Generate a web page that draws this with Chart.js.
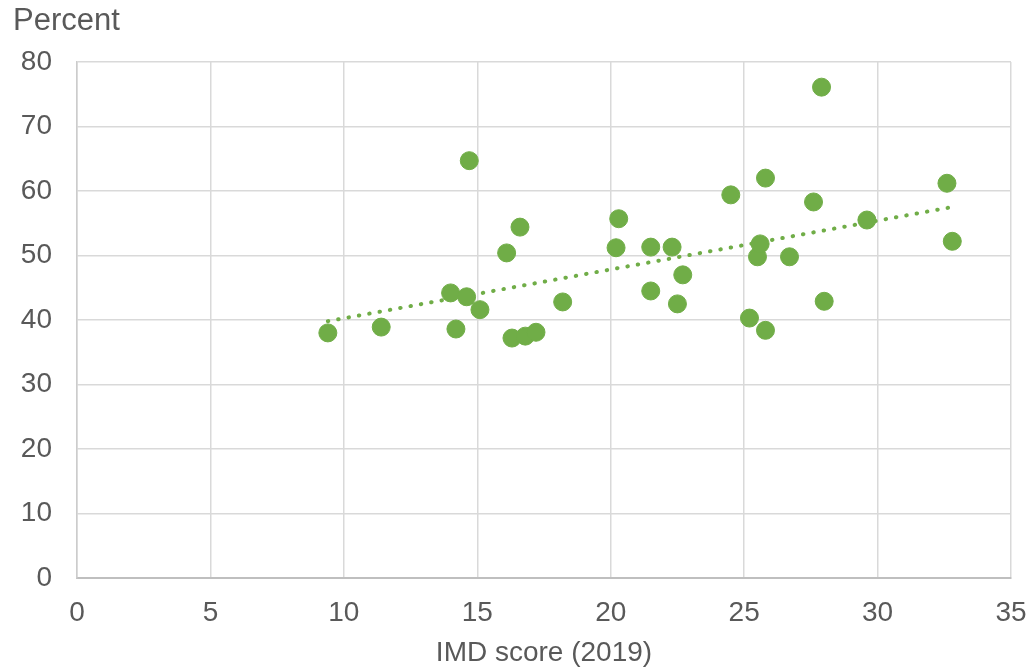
<!DOCTYPE html>
<html>
<head>
<meta charset="utf-8">
<script src="https://cdn.jsdelivr.net/npm/chart.js@4/dist/chart.umd.min.js"></script>
<style>
  html, body { margin: 0; padding: 0; background: #fff; }
  #wrap { width: 1033px; height: 667px; }
</style>
</head>
<body>
<div id="wrap"><canvas id="chart" width="1033" height="667"></canvas></div>
<script>
// IMD score (2019) per area
const imdScores = [9.4, 11.4, 14.0, 14.2, 14.6, 14.7, 15.1, 16.1, 16.3, 16.6, 16.8, 17.2, 18.2,
  20.2, 20.3, 21.5, 21.5, 22.3, 22.5, 22.7, 24.5, 25.2, 25.5, 25.6, 25.8, 25.8, 26.7,
  27.6, 27.9, 28.0, 29.6, 32.6, 32.8];
// Percent per area
const percentValues = [38.0, 38.9, 44.2, 38.6, 43.6, 64.7, 41.6, 50.4, 37.2, 54.4, 37.5, 38.1, 42.8,
  51.2, 55.7, 51.3, 44.5, 51.3, 42.5, 47.0, 59.4, 40.3, 49.8, 51.8, 38.4, 62.0, 49.8,
  58.3, 76.1, 42.9, 55.5, 61.2, 52.2];
const xTicks = [0, 5, 10, 15, 20, 25, 30, 35];
const yTicks = [0, 10, 20, 30, 40, 50, 60, 70, 80];

const green = '#70AD47';
const textColor = '#595959';
const font = 'Arial, "Liberation Sans", sans-serif';

// linear trendline (least squares) like Excel
const n = imdScores.length;
const mx = imdScores.reduce((a, b) => a + b, 0) / n;
const my = percentValues.reduce((a, b) => a + b, 0) / n;
let sxy = 0, sxx = 0;
for (let i = 0; i < n; i++) {
  sxy += (imdScores[i] - mx) * (percentValues[i] - my);
  sxx += (imdScores[i] - mx) * (imdScores[i] - mx);
}
const slope = sxy / sxx;
const intercept = my - slope * mx;
const xMin = Math.min(...imdScores), xMax = Math.max(...imdScores);
const trendPoints = [xMin, xMax].map(x => ({ x: x, y: intercept + slope * x }));

const points = imdScores.map((x, i) => ({ x: x, y: percentValues[i] }));

// "Percent" label at the top left
const topTitle = {
  id: 'topTitle',
  afterDraw(chart) {
    const ctx = chart.ctx;
    ctx.save();
    ctx.font = '31px ' + font;
    ctx.fillStyle = textColor;
    ctx.textBaseline = 'middle';
    ctx.textAlign = 'left';
    ctx.fillText('Percent', 13, 21);
    ctx.restore();
  }
};

new Chart(document.getElementById('chart'), {
  type: 'scatter',
  data: {
    datasets: [
      {
        type: 'line',
        data: trendPoints,
        borderColor: green,
        borderWidth: 4,
        borderDash: [0.5, 10],
        borderCapStyle: 'round',
        pointRadius: 0,
        fill: false,
        order: 2
      },
      {
        data: points,
        backgroundColor: green,
        borderColor: green,
        pointRadius: 9,
        pointHoverRadius: 9,
        order: 1
      }
    ]
  },
  options: {
    responsive: false,
    animation: false,
    layout: { padding: { left: 0, right: 22, top: 62, bottom: 0 } },
    plugins: { legend: { display: false }, tooltip: { enabled: false } },
    scales: {
      x: {
        type: 'linear',
        min: 0, max: 35,
        afterBuildTicks: s => { s.ticks = xTicks.map(v => ({ value: v })); },
        afterFit: s => { s.height = 89; s.paddingLeft = 0; s.paddingRight = 0; },
        grid: { color: '#d9d9d9', lineWidth: 1.5, drawTicks: false },
        border: { color: '#bfbfbf', width: 2 },
        ticks: { color: textColor, font: { size: 28, family: font }, padding: 18, maxRotation: 0 },
        title: { display: true, text: 'IMD score (2019)', color: textColor, font: { size: 28, family: font, lineHeight: 1.0 }, padding: 0 }
      },
      y: {
        min: 0, max: 80,
        afterBuildTicks: s => { s.ticks = yTicks.map(v => ({ value: v })); },
        afterFit: s => { s.width = 77; s.paddingTop = 0; s.paddingBottom = 0; },
        grid: { color: '#d9d9d9', lineWidth: 1.5, drawTicks: false },
        border: { color: '#cccccc', width: 1.5 },
        ticks: { color: textColor, font: { size: 28, family: font }, padding: 25 }
      }
    }
  },
  plugins: [topTitle]
});
</script>
</body>
</html>
